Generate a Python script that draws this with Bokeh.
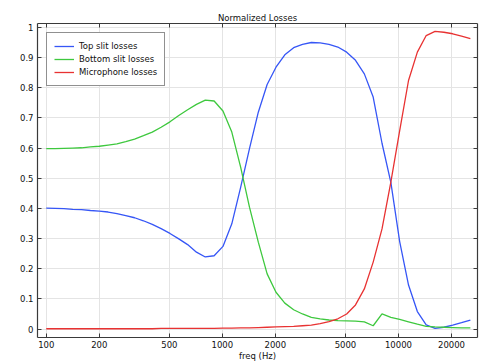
from bokeh.plotting import figure
from bokeh.models import (LogAxis, LinearAxis, FixedTicker, Range1d, Legend, LegendItem)
from bokeh.embed import file_html
from bokeh.resources import INLINE

# sixth-octave frequency points, 100 Hz .. 25600 Hz
freq = [100.0, 112.2, 126.0, 141.4, 158.7, 178.2, 200.0, 224.5, 252.0, 282.8,
        317.5, 356.4, 400.0, 449.0, 504.0, 565.7, 635.0, 712.7, 800.0, 898.0,
        1008.0, 1131.4, 1270.0, 1425.5, 1600.0, 1796.0, 2016.0, 2262.7, 2540.0,
        2851.0, 3200.0, 3592.0, 4032.0, 4525.5, 5080.0, 5702.0, 6400.0, 7184.0,
        8063.0, 9051.0, 10159.0, 11404.0, 12800.0, 14368.0, 16127.0, 18102.0,
        20319.0, 22807.0, 25600.0]

top_slit = [0.401, 0.400, 0.399, 0.397, 0.396, 0.393, 0.391, 0.388, 0.383, 0.376,
            0.369, 0.359, 0.347, 0.333, 0.317, 0.299, 0.280, 0.255, 0.239, 0.243,
            0.274, 0.349, 0.470, 0.598, 0.719, 0.811, 0.868, 0.909, 0.933,
            0.944, 0.950, 0.949, 0.944, 0.935, 0.918, 0.891, 0.846, 0.769,
            0.616, 0.486, 0.290, 0.146, 0.058, 0.014, 0.002, 0.006,
            0.013, 0.021, 0.030]

bottom_slit = [0.598, 0.598, 0.599, 0.600, 0.601, 0.604, 0.606, 0.610, 0.614, 0.621,
               0.630, 0.641, 0.653, 0.669, 0.687, 0.708, 0.727, 0.745, 0.759, 0.756,
               0.723, 0.653, 0.537, 0.404, 0.288, 0.183, 0.122, 0.086, 0.064,
               0.050, 0.039, 0.034, 0.030, 0.028, 0.027, 0.026, 0.024, 0.011,
               0.050, 0.039, 0.032, 0.024, 0.016, 0.009, 0.007, 0.006,
               0.005, 0.004, 0.004]

microphone = [0.001, 0.001, 0.001, 0.001, 0.001, 0.001, 0.001, 0.001, 0.001, 0.001,
              0.001, 0.001, 0.001, 0.002, 0.002, 0.002, 0.002, 0.002, 0.002, 0.002,
              0.003, 0.003, 0.004, 0.004, 0.005, 0.006, 0.007, 0.008, 0.009,
              0.011, 0.013, 0.018, 0.025, 0.034, 0.050, 0.080, 0.133, 0.222,
              0.332, 0.487, 0.658, 0.824, 0.918, 0.973, 0.987, 0.984,
              0.979, 0.971, 0.963]

series_names = ["Top slit losses", "Bottom slit losses", "Microphone losses"]
x_ticks = [100, 200, 500, 1000, 2000, 5000, 10000, 20000]
x_tick_labels = ["100", "200", "500", "1000", "2000", "5000", "10000", "20000"]
y_ticks = [0, 0.1, 0.2, 0.3, 0.4, 0.5, 0.6, 0.7, 0.8, 0.9, 1]
y_tick_labels = ["0", "0.1", "0.2", "0.3", "0.4", "0.5", "0.6", "0.7", "0.8", "0.9", "1"]

FONT = "DejaVu Sans"
FS = "8.5px"
AX = "#3a3a3a"

p = figure(width=483, height=363, x_axis_type="log", output_backend="svg",
           toolbar_location=None, x_range=Range1d(89.2, 28100),
           y_range=Range1d(-0.028, 1.013), min_border_left=37, min_border_right=6,
           min_border_top=23, min_border_bottom=26, title="Normalized Losses")
p.title.align = "center"
p.title.text_font = FONT
p.title.text_font_size = FS
p.title.text_font_style = "normal"
p.title.text_color = "#111111"
p.title.standoff = 2
p.outline_line_color = None

xt = FixedTicker(ticks=x_ticks, minor_ticks=[])
yt = FixedTicker(ticks=y_ticks, minor_ticks=[])

def style(ax):
    ax.axis_line_color = AX
    ax.axis_line_width = 1.2
    ax.major_tick_line_color = AX
    ax.major_tick_in = 4
    ax.major_tick_out = 0
    ax.minor_tick_in = 0
    ax.minor_tick_out = 0
    ax.major_label_text_font = FONT
    ax.major_label_text_font_size = FS
    ax.major_label_text_color = "#111111"
    ax.major_label_standoff = 4
    ax.axis_label_text_font = FONT
    ax.axis_label_text_font_size = FS
    ax.axis_label_text_font_style = "normal"
    ax.axis_label_text_color = "#111111"

xa = p.xaxis[0]
xa.ticker = xt
xa.major_label_overrides = {t: l for t, l in zip(x_ticks, x_tick_labels)}
xa.axis_label = "freq (Hz)"
xa.axis_label_standoff = 0
style(xa)
xa.major_label_standoff = 3

ya = p.yaxis[0]
ya.ticker = yt
ya.major_label_overrides = {t: l for t, l in zip(y_ticks, y_tick_labels)}
style(ya)

top = LogAxis(ticker=FixedTicker(ticks=x_ticks, minor_ticks=[]))
style(top)
top.major_label_overrides = {t: "" for t in x_ticks}
top.major_label_standoff = 0
p.add_layout(top, "above")
right = LinearAxis(ticker=FixedTicker(ticks=y_ticks, minor_ticks=[]))
style(right)
right.major_label_overrides = {t: "" for t in y_ticks}
right.major_label_standoff = 0
p.add_layout(right, "right")

p.xgrid.ticker = xt
p.ygrid.ticker = yt
p.grid.grid_line_color = "#e4e4e4"
p.grid.grid_line_width = 1

colors = ["#3656f6", "#3ec83e", "#e83232"]
rs = []
for ys, c in zip([top_slit, bottom_slit, microphone], colors):
    rs.append(p.line(freq, ys, line_color=c, line_width=1.3))

legend = Legend(items=[LegendItem(label=n, renderers=[r]) for n, r in zip(series_names, rs)],
                location="top_left")
legend.margin = 9
legend.padding = 7
legend.spacing = 1
legend.label_standoff = 5
legend.glyph_width = 20
legend.glyph_height = 12
legend.label_height = 12
legend.label_text_font = FONT
legend.label_text_font_size = FS
legend.label_text_color = "#111111"
legend.border_line_color = "#222222"
legend.border_line_width = 1.5
legend.background_fill_alpha = 1
p.add_layout(legend, "center")

open("out.html", "w").write(file_html(p, INLINE))
